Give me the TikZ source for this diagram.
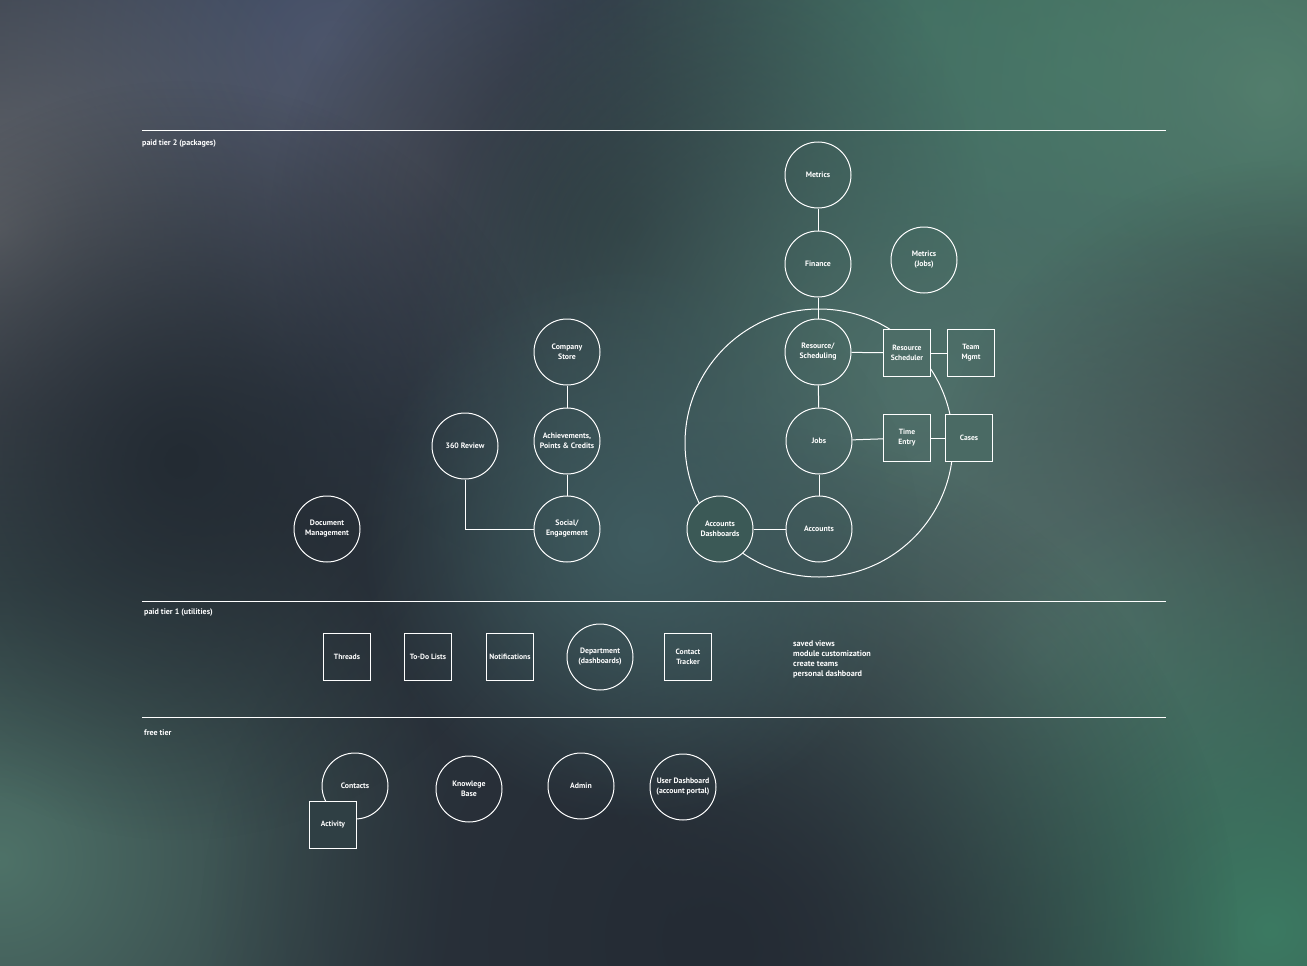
\documentclass[tikz,border=0pt]{standalone}
\usepackage{fontspec}
\setmainfont{PT Sans}
\usetikzlibrary{positioning,fadings}
\definecolor{bgbase}{HTML}{2C343D}
\definecolor{ringfill}{HTML}{4D6D67}
\definecolor{casefill}{HTML}{4A6A64}
\definecolor{dashfill}{HTML}{3B5956}
\definecolor{actfill}{HTML}{2F3F44}
\tikzfading[name=blobfade, inner color=transparent!0, outer color=transparent!100]

\begin{document}
\begin{tikzpicture}[x=1pt, y=-1pt,
modcirc/.style={circle, draw=white, line width=1pt, minimum size=66pt,
inner sep=0pt, align=center, text=white, font=\fontsize{7.8}{10}\selectfont\bfseries},
modbox/.style={rectangle, draw=white, line width=1pt, minimum size=47pt,
inner sep=0pt, align=center, text=white, font=\fontsize{7.6}{10}\selectfont\bfseries},
tierline/.style={draw=white, line width=0.8pt},
tierlabel/.style={anchor=west, inner sep=0pt, text=white, font=\fontsize{8}{8}\selectfont\bfseries},
blob/.style={path fading=blobfade}]
  \useasboundingbox (0,0) rectangle (1307,966);
  % background
  \fill[bgbase] (0,0) rectangle (1307,966);
  \fill[blob, color={rgb,255:red,74;green,86;blue,112}] (330,50) circle (480);
  \fill[blob, color={rgb,255:red,98;green,101;blue,107}] (0,230) circle (360);
  \fill[blob, color={rgb,255:red,82;green,86;blue,100}] (420,180) circle (260);
  \fill[blob, color={rgb,255:red,72;green,106;blue,104}] (900,60) circle (380);
  \fill[blob, color={rgb,255:red,61;green,118;blue,96}] (1070,80) circle (460);
  \fill[blob, color={rgb,255:red,84;green,128;blue,110}] (1270,90) circle (400);
  \fill[blob, color={rgb,255:red,38;green,46;blue,54}] (630,230) circle (360);
  \fill[blob, color={rgb,255:red,76;green,113;blue,106}] (920,390) circle (520);
  \fill[blob, color={rgb,255:red,56;green,62;blue,66}] (1290,520) circle (360);
  \fill[blob, color={rgb,255:red,84;green,110;blue,106}] (1040,650) circle (460);
  \fill[blob, color={rgb,255:red,78;green,114;blue,104}] (0,860) circle (460);
  \fill[blob, color={rgb,255:red,60;green,122;blue,98}] (1270,930) circle (460);
  \fill[blob, color={rgb,255:red,36;green,43;blue,52}] (720,940) circle (520);
  \fill[blob, color={rgb,255:red,35;green,43;blue,51}] (180,460) circle (380);
  \fill[blob, color={rgb,255:red,63;green,92;blue,96}] (640,540) circle (280);

  % tier lines
  \draw[tierline] (142,130) -- (1166,130);
  \draw[tierline] (142,601) -- (1166,601);
  \draw[tierline] (142,717) -- (1166,717);
  \node[tierlabel] (t2) at (142,144) {paid tier 2 (packages)};
  \node[tierlabel] (t1) at (144,613) {paid tier 1 (utilities)};
  \node[tierlabel] (t0) at (144,733) {free tier};

  % paid tier 2
  \node[circle, draw=white, line width=1pt, minimum size=268pt] (ring) at (819,443) {};
  \node[modcirc] (met) at (818,175) {Metrics};
  \node[modcirc] (fin) at (818,264) {Finance};
  \node[modcirc] (metj) at (924,260) {Metrics\\(Jobs)};
  \node[modcirc] (res) at (818,352) {Resource/\\Scheduling};
  \node[modbox, fill=ringfill] (rsch) at (907,353) {Resource\\Scheduler};
  \node[modbox] (team) at (971,353) {Team\\Mgmt};
  \node[modcirc] (jobs) at (819,441) {Jobs};
  \node[modbox] (time) at (907,438) {Time\\Entry};
  \node[modbox, fill=casefill] (cases) at (969,438) {Cases};
  \node[modcirc] (acc) at (819,529) {Accounts};
  \node[modcirc, fill=dashfill] (accd) at (720,529) {Accounts\\Dashboards};
  \node[modcirc] (store) at (567,352) {Company\\Store};
  \node[modcirc] (ach) at (567,441) {Achievements,\\Points \& Credits};
  \node[modcirc] (soc) at (567,529) {Social/\\Engagement};
  \node[modcirc] (rev) at (465,446) {360 Review};
  \node[modcirc] (doc) at (327,529) {Document\\Management};

  % paid tier 1
  \node[modbox] (thr) at (347,657) {Threads};
  \node[modbox] (todo) at (428,657) {To-Do Lists};
  \node[modbox] (noti) at (510,657) {Notifications};
  \node[modcirc] (dept) at (600,657) {Department\\(dashboards)};
  \node[modbox] (ctr) at (688,657) {Contact\\Tracker};
  \node[anchor=west, inner sep=0pt, align=left, text=white,
    font=\fontsize{8.2}{10}\selectfont\bfseries] (feat) at (793,659)
    {saved views\\module customization\\create teams\\personal dashboard};

  % free tier
  \node[modcirc] (cont) at (355,786) {Contacts};
  \node[modbox, fill=actfill] (act) at (333,825) {Activity};
  \node[modcirc] (kb) at (469,789) {Knowlege\\Base};
  \node[modcirc] (adm) at (581,786) {Admin};
  \node[modcirc] (udash) at (683,787) {User Dashboard\\(account portal)};

\foreach \from/\to in {met/fin,fin/res,res/rsch,rsch/team,res/jobs,jobs/time,
    time/cases,jobs/acc,acc/accd,store/ach,ach/soc}
    \draw[white, line width=1pt] (\from) -- (\to);
  \draw[white, line width=1pt] (rev) |- (soc);
\end{tikzpicture}
\end{document}
